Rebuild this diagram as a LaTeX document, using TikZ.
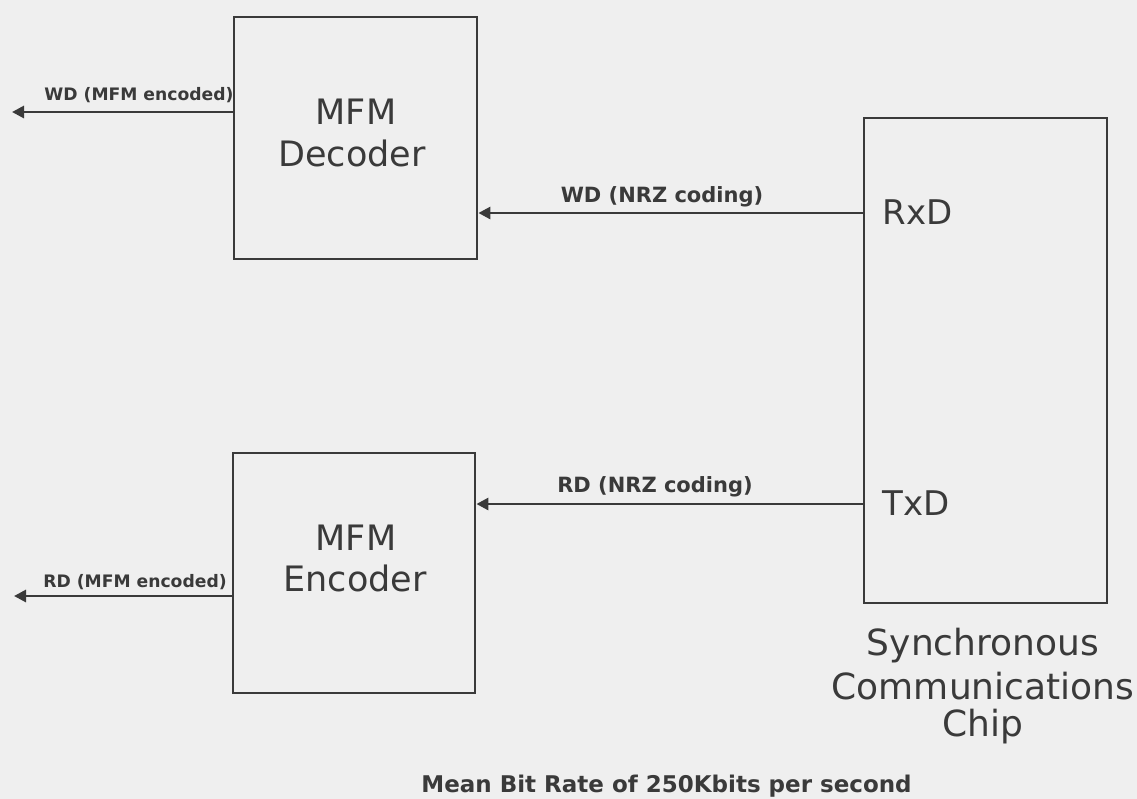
\documentclass[tikz,border=0pt]{standalone}
\usepackage{fontspec}
\setmainfont{DejaVu Sans}
\usetikzlibrary{arrows.meta}
\definecolor{bg}{HTML}{EFEFEF}
\definecolor{ink}{HTML}{3A3A3A}
\begin{document}
\begin{tikzpicture}[x=0.5pt,y=-0.5pt,
  blockbox/.style={draw=ink,line width=1.4pt,inner sep=0pt},
  conn/.style={draw=ink,line width=1.4pt,-{Triangle[length=6pt,width=6pt]}},
  bigtext/.style={text=ink,font=\fontsize{17.5}{20}\selectfont,inner sep=0pt},
  pintext/.style={text=ink,font=\fontsize{17}{20}\selectfont,inner sep=0pt},
  chiptext/.style={text=ink,font=\fontsize{18}{21}\selectfont,inner sep=0pt},
  mfmlabel/.style={text=ink,font=\bfseries\fontsize{8.6}{10}\selectfont,inner sep=0pt},
  nrzlabel/.style={text=ink,font=\bfseries\fontsize{10.5}{12}\selectfont,inner sep=0pt},
  bottomtext/.style={text=ink,font=\bfseries\fontsize{11.5}{13}\selectfont,inner sep=0pt}]
\fill[bg] (0,0) rectangle (1137,799);
\useasboundingbox (0,0) rectangle (1137,799);
% blocks
\node[blockbox,minimum width=121.5pt,minimum height=121pt] (dec) at (355.5,138) {};
\node[blockbox,minimum width=121pt,minimum height=120pt] (enc) at (354,573) {};
\node[blockbox,minimum width=121.5pt,minimum height=242.5pt] (chip) at (985.5,360.5) {};
% block texts
\node[bigtext] (decA) at (356,112) {MFM};
\node[bigtext] (decB) at (352,153) {Decoder};
\node[bigtext] (encA) at (356,538) {MFM};
\node[bigtext] (encB) at (355,578) {Encoder};
\node[pintext,anchor=west] (rxd) at (882,212) {RxD};
\node[pintext,anchor=west] (txd) at (882,503) {TxD};
\node[chiptext,anchor=base] (chipA) at (983,655) {Synchronous};
\node[chiptext,anchor=base] (chipB) at (983,699) {Communications};
\node[chiptext,anchor=base] (chipC) at (983,736) {Chip};
% free ends
\coordinate (wdout) at (12,112);
\coordinate (rdout) at (14,596);
\coordinate (yr) at (0,213);
\coordinate (yt) at (0,504);
% connectors
\draw[conn] (dec.west |- wdout) -- (wdout);
\draw[conn] (enc.west |- rdout) -- (rdout);
\draw[conn] (chip.west |- yr) -- (dec.east |- yr);
\draw[conn] (chip.west |- yt) -- (enc.east |- yt);
% connector labels
\node[mfmlabel] (l1) at (139,95) {WD (MFM encoded)};
\node[mfmlabel] (l2) at (135,582) {RD (MFM encoded)};
\node[nrzlabel] (l3) at (662,197) {WD (NRZ coding)};
\node[nrzlabel] (l4) at (655,487) {RD (NRZ coding)};
\node[bottomtext,anchor=base west] (note) at (421,792) {Mean Bit Rate of 250Kbits per second};
\end{tikzpicture}
\end{document}
